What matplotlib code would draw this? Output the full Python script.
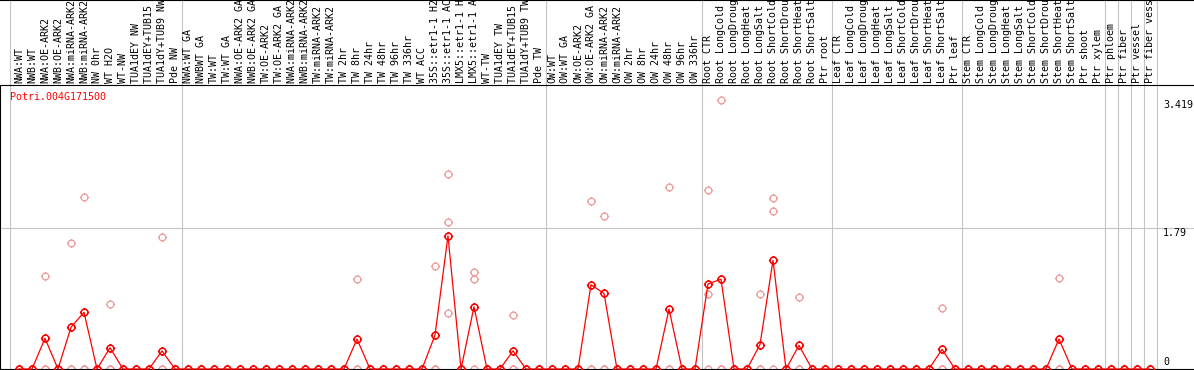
import matplotlib
matplotlib.use("Agg")
import matplotlib.pyplot as plt
from matplotlib.path import Path

# ---------------- data ----------------
categories = [
    "NWA:WT", "NWB:WT", "NWA:OE-ARK2", "NWB:OE-ARK2", "NWA:miRNA-ARK2", "NWB:miRNA-ARK2",
    "NW 0hr", "WT H2O", "WT-NW", "TUA1dEY NW", "TUA1dEY+TUB15 NW", "TUA1dY+TUB9 NW", "Pde NW",
    "NWA:WT GA", "NWBWT GA", "TW:WT", "TW:WT GA", "NWA:OE-ARK2 GA", "NWB:OE-ARK2 GA",
    "TW:OE-ARK2", "TW:OE-ARK2 GA", "NWA:miRNA-ARK2 GA", "NWB:miRNA-ARK2 GA", "TW:miRNA-ARK2",
    "TW:miRNA-ARK2", "TW 2hr", "TW 8hr", "TW 24hr", "TW 48hr", "TW 96hr", "TW 336hr", "WT ACC",
    "35S::etr1-1 H2O", "35S::etr1-1 ACC", "LMX5::etr1-1 H2O", "LMX5::etr1-1 ACC", "WT-TW",
    "TUA1dEY TW", "TUA1dEY+TUB15 TW", "TUA1dY+TUB9 TW", "Pde TW",
    "OW:WT", "OW:WT GA", "OW:OE-ARK2", "OW:OE-ARK2 GA", "OW:miRNA-ARK2", "OW:miRNA-ARK2",
    "OW 2hr", "OW 8hr", "OW 24hr", "OW 48hr", "OW 96hr", "OW 336hr",
    "Root CTR", "Root LongCold", "Root LongDrought", "Root LongHeat", "Root LongSalt",
    "Root ShortCold", "Root ShortDrought", "Root ShortHeat", "Root ShortSalt", "Ptr root",
    "Leaf CTR", "Leaf LongCold", "Leaf LongDrought", "Leaf LongHeat", "Leaf LongSalt",
    "Leaf ShortCold", "Leaf ShortDrought", "Leaf ShortHeat", "Leaf ShortSalt", "Ptr leaf",
    "Stem CTR", "Stem LongCold", "Stem LongDrought", "Stem LongHeat", "Stem LongSalt",
    "Stem ShortCold", "Stem ShortDrought", "Stem ShortHeat", "Stem ShortSalt", "Ptr shoot",
    "Ptr xylem", "Ptr phloem", "Ptr fiber", "Ptr vessel", "Ptr fiber vessel",
]
group_sizes = [13, 28, 12, 10, 10, 11, 1, 1, 1, 1]

mean_expr = [
    0, 0, 0.39, 0, 0.53, 0.72, 0, 0.27, 0, 0, 0, 0.23, 0,
    0, 0, 0, 0, 0, 0, 0, 0, 0, 0, 0, 0, 0, 0.38, 0, 0, 0, 0, 0,
    0.43, 1.69, 0, 0.79, 0, 0, 0.23, 0, 0,
    0, 0, 0, 1.07, 0.96, 0, 0, 0, 0, 0.76, 0, 0,
    1.08, 1.14, 0, 0, 0.31, 1.38, 0, 0.30, 0, 0,
    0, 0, 0, 0, 0, 0, 0, 0, 0.25, 0,
    0, 0, 0, 0, 0, 0, 0, 0.38, 0, 0, 0,
    0, 0, 0, 0,
]
rep_a = [
    0, 0, 1.18, 0, 1.60, 2.18, 0, 0.82, 0, 0, 0, 1.68, 0,
    0, 0, 0, 0, 0, 0, 0, 0, 0, 0, 0, 0, 0, 1.14, 0, 0, 0, 0, 0,
    1.31, 2.47, 0, 1.23, 0, 0, 0.69, 0, 0,
    0, 0, 0, 2.13, 1.94, 0, 0, 0, 0, 2.31, 0, 0,
    2.27, 3.419, 0, 0, 0.95, 2.17, 0, 0.92, 0, 0,
    0, 0, 0, 0, 0, 0, 0, 0, 0.78, 0,
    0, 0, 0, 0, 0, 0, 0, 1.15, 0, 0, 0,
    0, 0, 0, 0,
]
rep_b = [
    0, 0, 0, 0, 0, 0, 0, 0, 0, 0, 0, 0, 0,
    0, 0, 0, 0, 0, 0, 0, 0, 0, 0, 0, 0, 0, 0, 0, 0, 0, 0, 0,
    0, 1.87, 0, 1.14, 0, 0, 0, 0, 0,
    0, 0, 0, 0, 0, 0, 0, 0, 0, 0, 0, 0,
    0.95, 0, 0, 0, 0, 2.00, 0, 0, 0, 0,
    0, 0, 0, 0, 0, 0, 0, 0, 0, 0,
    0, 0, 0, 0, 0, 0, 0, 0, 0, 0, 0,
    0, 0, 0, 0,
]
rep_c = [
    0, 0, 0, 0, 0, 0, 0, 0, 0, 0, 0, 0, 0,
    0, 0, 0, 0, 0, 0, 0, 0, 0, 0, 0, 0, 0, 0, 0, 0, 0, 0, 0,
    0, 0.71, 0, 0, 0, 0, 0, 0, 0,
    0, 0, 0, 0, 0, 0, 0, 0, 0, 0, 0, 0,
    0, 0, 0, 0, 0, 0, 0, 0, 0, 0,
    0, 0, 0, 0, 0, 0, 0, 0, 0, 0,
    0, 0, 0, 0, 0, 0, 0, 0, 0, 0, 0,
    0, 0, 0, 0,
]
y_tick_values = [0, 1.79, 3.419]
y_tick_labels = ["0", "1.79", "3.419"]
gene_id = "Potri.004G171500"

# ---------------- layout ----------------
W, H = 1194, 370
fig = plt.figure(figsize=(W / 100, H / 100), dpi=100)
MONO = "DejaVu Sans Mono"
FS = 7.2
GRAY = "#c4c4c4"
RED = "#ff0000"
PALE = "#ec9a9a"

x0_px, step_px = 19, 13
xlim = (-x0_px / step_px, (W - x0_px) / step_px)
px_per_unit = 141 / 1.79
plot_top_px, base_px = 85, 369

ax = fig.add_axes([0, (H - base_px) / H, 1, (base_px - plot_top_px) / H])
hx = fig.add_axes([0, (H - plot_top_px) / H, 1, plot_top_px / H])

ax.set_xlim(*xlim)
ax.set_ylim(0, (base_px - plot_top_px) / px_per_unit)
hx.set_xlim(*xlim)
hx.set_ylim(0, 1)
for a in (ax, hx):
    a.set_xticks([])
    a.set_yticks([])
    a.patch.set_alpha(0)
for s in ("top", "right"):
    ax.spines[s].set_visible(False)
ax.spines["left"].set_color("black")
ax.spines["bottom"].set_color("black")
for s in ("left", "right"):
    hx.spines[s].set_visible(False)
hx.spines["top"].set_color("black")
hx.spines["bottom"].set_color("black")

# vertical separators
bounds = [-9 / 13]
acc = 0
for g in group_sizes:
    acc += g
    bounds.append(acc - 0.5)
for b in bounds:
    ax.axvline(b, color=GRAY, lw=0.8, zorder=0)
    hx.axvline(b, color=GRAY, lw=0.8, zorder=0)
ax.axhline(y_tick_values[1], color=GRAY, lw=0.8, zorder=0)

# header labels
for i, lab in enumerate(categories):
    hx.text(i, 0.02, lab, rotation=90, ha="center", va="bottom",
            fontsize=FS, family=MONO, clip_on=True)

# marker: circle with small outside ticks
circ = Path.unit_circle()
t = 1.35
ticks = Path([(1, 0), (t, 0), (-1, 0), (-t, 0), (0, 1), (0, t), (0, -1), (0, -t)],
             [Path.MOVETO, Path.LINETO] * 4)
mk = Path.make_compound_path(circ, ticks)

xs = list(range(len(categories)))
for reps in (rep_a, rep_b, rep_c):
    ax.plot(xs, reps, linestyle="none", marker=mk, markersize=6.6,
            markerfacecolor="none", markeredgecolor=PALE, markeredgewidth=0.9,
            clip_on=False, zorder=2)
ax.plot(xs, mean_expr, color=RED, lw=0.9, marker=mk, markersize=6.6,
        markerfacecolor="none", markeredgecolor=RED, markeredgewidth=1.1,
        clip_on=False, zorder=3)

# y labels
lab_x = (1163 - x0_px) / step_px
ax.text(lab_x, y_tick_values[2], y_tick_labels[2], ha="left", va="top",
        fontsize=FS, family=MONO)
ax.text(lab_x, y_tick_values[1], y_tick_labels[1], ha="left", va="top",
        fontsize=FS, family=MONO)
ax.text(lab_x, y_tick_values[0] + 0.02, y_tick_labels[0], ha="left", va="bottom",
        fontsize=FS, family=MONO)

# gene id
ax.text((10 - x0_px) / step_px, (base_px - 97) / px_per_unit, gene_id,
        color=RED, ha="left", va="center", fontsize=FS, family=MONO)

fig.savefig("out.png", dpi=100)
